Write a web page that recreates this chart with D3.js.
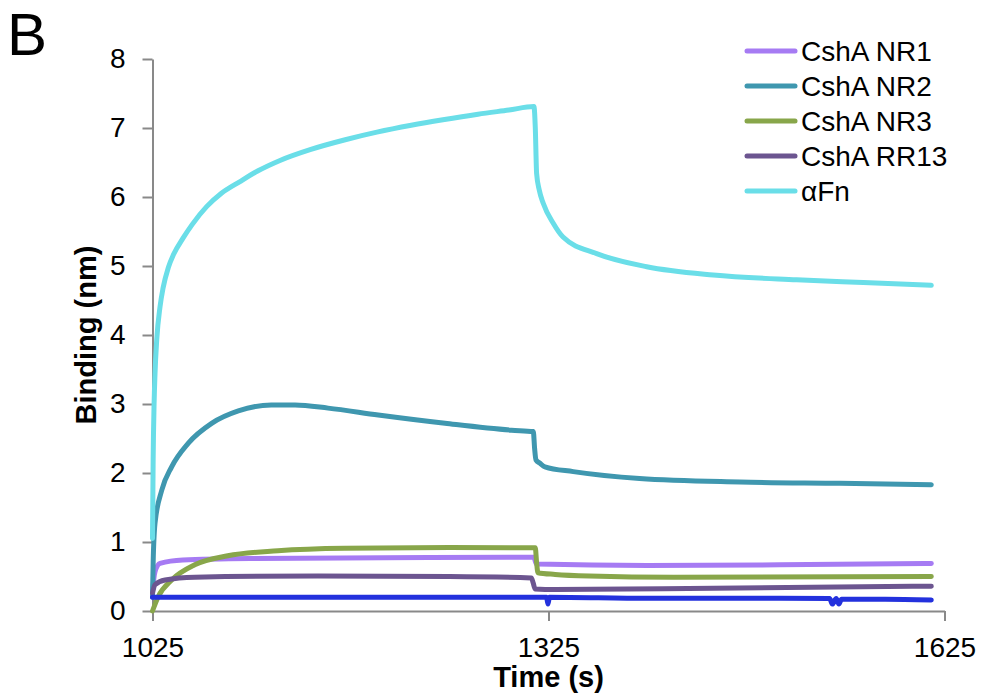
<!DOCTYPE html>
<html>
<head>
<meta charset="utf-8">
<script src="https://cdn.jsdelivr.net/npm/d3@7"></script>
<style>
  body { margin: 0; background: #fff; }
  svg { display: block; font-family: "Liberation Sans", Arial, sans-serif; }
  .axis path, .axis line { stroke: #898989; stroke-width: 2; }
  .axis text { font-size: 28px; fill: #000; }
  .title { font-size: 29px; font-weight: bold; }
  .legend text { font-size: 28px; }
  .series { fill: none; stroke-width: 5; stroke-linejoin: round; stroke-linecap: round; }
</style>
</head>
<body>
<div id="chart"></div>
<script>
// [time (s), binding (nm)]
var nr1 = [[1025,0.30],[1026.9,0.57],[1030.7,0.69],[1048,0.74],[1100,0.76],[1200,0.77],[1314,0.78],[1315,0.72],[1316,0.68],[1400,0.66],[1500,0.67],[1615,0.69]];
var nr2 = [[1025,0.2],[1025.5,0.7],[1026.9,1.27],[1032,1.75],[1039.5,2.09],[1052,2.43],[1069.8,2.72],[1090,2.90],[1115,2.985],[1133,2.985],[1158,2.94],[1196,2.84],[1246.6,2.72],[1297,2.62],[1313.5,2.60],[1314.5,2.35],[1315.5,2.19],[1318.6,2.14],[1322.3,2.09],[1343.8,2.02],[1394,1.92],[1470,1.87],[1545.8,1.85],[1615,1.83]];
var nr3 = [[1025,0],[1029.4,0.21],[1039.5,0.45],[1057,0.67],[1082,0.80],[1120,0.874],[1170.8,0.91],[1250,0.92],[1315,0.915],[1316,0.70],[1317,0.555],[1330,0.53],[1356,0.507],[1420,0.49],[1615,0.50]];
var rr13 = [[1025,0.26],[1026.9,0.38],[1034.5,0.45],[1057,0.49],[1150,0.507],[1250,0.50],[1312,0.48],[1313.5,0.40],[1314.8,0.32],[1330,0.31],[1450,0.33],[1615,0.36]];
var afn = [[1025,1.05],[1025.5,2.2],[1026.2,3.0],[1026.9,3.44],[1028.2,3.93],[1030.7,4.41],[1033,4.68],[1037,4.98],[1041,5.17],[1048,5.40],[1055,5.60],[1066,5.86],[1077,6.05],[1091,6.22],[1105,6.38],[1121.6,6.53],[1145,6.69],[1171,6.83],[1195,6.94],[1221,7.04],[1245,7.12],[1271.6,7.20],[1295,7.26],[1314,7.31],[1315,7.0],[1316,6.34],[1318,6.1],[1321,5.91],[1328.6,5.62],[1336,5.42],[1361.5,5.18],[1399.4,4.99],[1449.8,4.87],[1513,4.80],[1563.5,4.76],[1615,4.72]];
var baseline = [[1025,0.2],[1150,0.2],[1250,0.2],[1323.5,0.2],[1324.6,0.1],[1325.7,0.2],[1400,0.185],[1500,0.185],[1538,0.18],[1540,0.1],[1543,0.18],[1545,0.1],[1547,0.17],[1580,0.17],[1615,0.16]];

var labels = ['CshA NR1', 'CshA NR2', 'CshA NR3', 'CshA RR13', 'αFn'];
var colors = ['#a67bf3', '#3f97af', '#88a64a', '#6c5590', '#6adee8'];
var xTicks = [1025, 1325, 1625];
var yTicks = [0, 1, 2, 3, 4, 5, 6, 7, 8];

var size = { w: 982, h: 700 };
var m = { l: 152.5, r: 37.5, t: 59, b: 89 };

var svg = d3.select('#chart').append('svg')
  .attr('width', size.w)
  .attr('height', size.h);

var x = d3.scaleLinear().domain([1025, 1625]).range([m.l, size.w - m.r]);
var y = d3.scaleLinear().domain([0, 8]).range([size.h - m.b, m.t]);

// panel letter
svg.append('text')
  .attr('x', 7)
  .attr('y', 55)
  .style('font-size', '60px')
  .text('B');

// axes
svg.append('g')
  .attr('class', 'axis')
  .attr('transform', 'translate(' + [0, y(0)].join(',') + ')')
  .call(d3.axisBottom(x).tickValues(xTicks).tickSize(10).tickSizeOuter(0).tickPadding(16).tickFormat(d3.format('d')));

svg.append('g')
  .attr('class', 'axis')
  .attr('transform', 'translate(' + [x(1025), 0].join(',') + ')')
  .call(d3.axisLeft(y).tickValues(yTicks).tickSize(10).tickSizeOuter(0).tickPadding(17).tickFormat(d3.format('d')));

// axis titles
svg.append('text')
  .attr('class', 'title')
  .attr('text-anchor', 'middle')
  .attr('x', x(1325))
  .attr('y', 687)
  .text('Time (s)');

svg.append('text')
  .attr('class', 'title')
  .attr('text-anchor', 'middle')
  .attr('transform', 'translate(96,335) rotate(-90)')
  .text('Binding (nm)');

// lines
var line = d3.line()
  .x(function(d) { return x(d[0]); })
  .y(function(d) { return y(d[1]); })
  .curve(d3.curveMonotoneX);

var series = [nr1, nr2, nr3, rr13, afn];
series.forEach(function(s, i) {
  svg.append('path')
    .attr('class', 'series')
    .attr('stroke', colors[i])
    .attr('d', line(s));
});
svg.append('path')
  .attr('class', 'series')
  .attr('stroke', '#2331dd')
  .attr('d', line(baseline));

// legend
var legend = svg.append('g').attr('class', 'legend');
labels.forEach(function(label, i) {
  var ly = 51 + i*35;
  legend.append('line')
    .attr('x1', 747).attr('x2', 795)
    .attr('y1', ly).attr('y2', ly)
    .attr('stroke', colors[i])
    .attr('stroke-width', 5)
    .attr('stroke-linecap', 'round');
  legend.append('text')
    .attr('x', 801)
    .attr('y', ly + 10)
    .text(label);
});
</script>
</body>
</html>
